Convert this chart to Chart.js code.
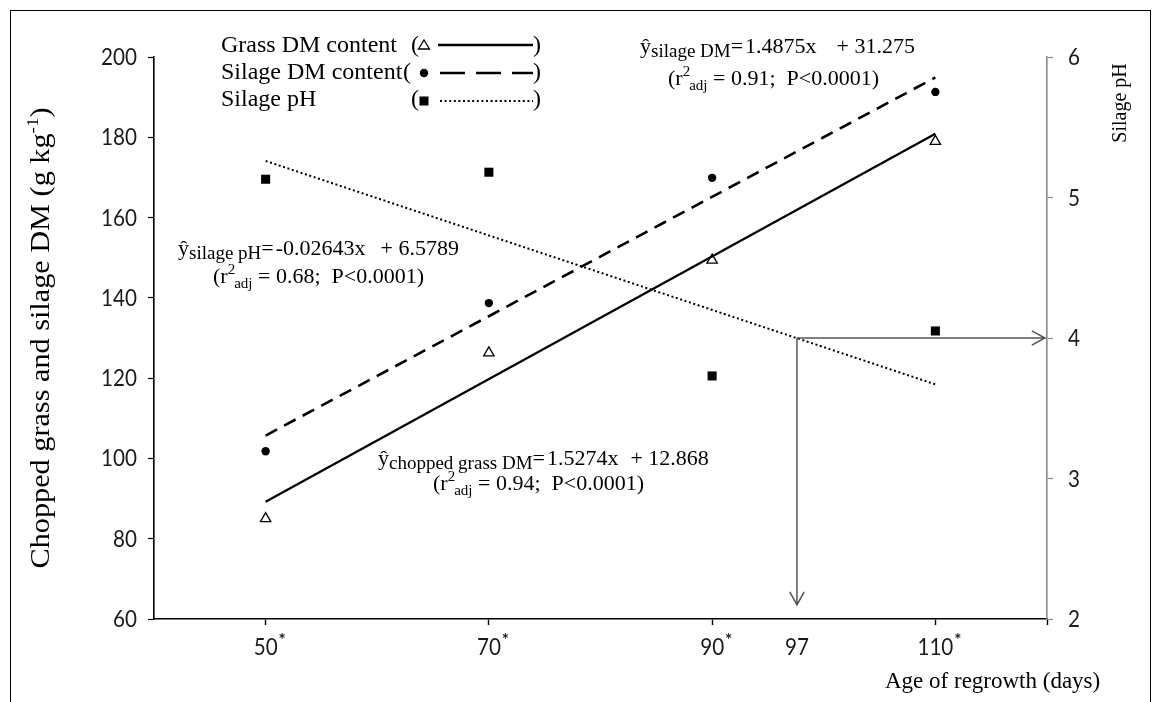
<!DOCTYPE html>
<html>
<head>
<meta charset="utf-8">
<script src="https://cdn.jsdelivr.net/npm/chart.js@4.4.1/dist/chart.umd.min.js"></script>
<style>
    html, body { margin: 0; padding: 0; background: #fff; }
    #wrap { position: relative; width: 1162px; height: 702px; overflow: hidden; }
    #frame { position: absolute; left: 10px; top: 10px; width: 1141px; height: 720px; border: 1px solid #000; box-sizing: border-box; }
    canvas { position: absolute; left: 0; top: 0; }
</style>
</head>
<body>
<div id="wrap">
    <div id="frame"></div>
    <canvas id="grafico" width="1162" height="702"></canvas>
</div>
<script>
// Datos
const dias = [50, 70, 90, 110];
const pastoMS = [85, 126.3, 149.4, 179];
const ensilajeMS = [101.8, 138.7, 169.9, 191.3];
const ensilajePH = [5.13, 5.18, 3.73, 4.05];

// Rectas de regresión (extremos)
const diasAjuste = [50, 110];
const pastoAjuste = [89.2, 180.9];
const ensilajeAjuste = [105.7, 194.9];
const phAjuste = [5.26, 3.67];

// Ejes
const xTicks = [50, 70, 90, 110, 120];
const xEtiquetas = ['50', '70', '90', '110'];
const yTicks = [60, 80, 100, 120, 140, 160, 180, 200];
const phTicks = [2, 3, 4, 5, 6];
const marcaX = 97.6;      // días para pH 4
const marcaPH = 4;
const marcaPHFin = 2.1;

const serif = "'Liberation Serif', 'Times New Roman', serif";
const sans = "Lato, 'Liberation Sans', sans-serif";

function puntos(xs, ys) {
    return xs.map((x, i) => ({ x: x, y: ys[i] }));
}

// Dibuja texto en trozos: [texto, tamaño, desplazamiento vertical, espacio extra]
function trozos(ctx, x, y, partes) {
    let cx = x;
    partes.forEach(p => {
        ctx.font = p[1] + 'px ' + serif;
        ctx.fillText(p[0], cx, y + (p[2] || 0));
        cx += ctx.measureText(p[0]).width + (p[3] || 0);
    });
    return cx;
}

function anchoTrozos(ctx, partes) {
    let w = 0;
    partes.forEach(p => {
        ctx.font = p[1] + 'px ' + serif;
        w += ctx.measureText(p[0]).width + (p[3] || 0);
    });
    return w;
}

// Números de los ejes, algo estrechos como Calibri
function numero(ctx, t, x, y, alinear) {
    ctx.save();
    ctx.font = '24px ' + sans;
    ctx.fillStyle = '#1a1a1a';
    ctx.textAlign = alinear;
    ctx.translate(x, y);
    ctx.scale(0.86, 1);
    ctx.fillText(t, 0, 0);
    const w = ctx.measureText(t).width * 0.86;
    ctx.restore();
    return w;
}

function flecha(ctx, x1, y1, x2, y2) {
    const ang = Math.atan2(y2 - y1, x2 - x1);
    const largo = 15, abre = 0.5;
    ctx.beginPath();
    ctx.moveTo(x1, y1);
    ctx.lineTo(x2, y2);
    ctx.moveTo(x2 - largo * Math.cos(ang - abre), y2 - largo * Math.sin(ang - abre));
    ctx.lineTo(x2, y2);
    ctx.lineTo(x2 - largo * Math.cos(ang + abre), y2 - largo * Math.sin(ang + abre));
    ctx.stroke();
}

const textos = {
    id: 'textos',
    afterDraw(chart) {
        const ctx = chart.ctx;
        const sx = chart.scales.x;
        const sy = chart.scales.y;
        const sy1 = chart.scales.y1;
        ctx.save();
        ctx.fillStyle = '#000';
        ctx.textBaseline = 'alphabetic';
        ctx.textAlign = 'left';

        // Etiquetas de los ejes
        yTicks.forEach(v => numero(ctx, String(v), 137, sy.getPixelForValue(v) + 8, 'right'));
        phTicks.forEach(v => numero(ctx, String(v), 1068, sy1.getPixelForValue(v) + 8, 'left'));
        xEtiquetas.forEach(t => {
            const px = sx.getPixelForValue(Number(t));
            const w = numero(ctx, t, px, 655, 'center');
            ctx.font = 'bold 17px ' + sans;
            ctx.fillStyle = '#1a1a1a';
            ctx.textAlign = 'left';
            ctx.fillText('*', px + w / 2 + 1, 646);
        });
        numero(ctx, '97', sx.getPixelForValue(marcaX), 655, 'center');

        // Flechas pH 4
        const ax = sx.getPixelForValue(marcaX);
        const ay = sy1.getPixelForValue(marcaPH);
        ctx.strokeStyle = '#555';
        ctx.lineWidth = 1.5;
        flecha(ctx, ax, ay, sx.right - 2, ay);
        flecha(ctx, ax, ay, ax, sy1.getPixelForValue(marcaPHFin));

        ctx.fillStyle = '#000';
        ctx.textAlign = 'left';

        // Título eje X
        ctx.font = '23px ' + serif;
        ctx.fillText('Age of regrowth (days)', 885, 688);

        // Título eje Y izquierdo (algo estirado a lo largo del eje)
        const tIzq = [['Chopped grass and silage DM (g kg', 27, 0], ['-1', 17, -11], [')', 27, 0]];
        ctx.save();
        ctx.translate(49, 338);
        ctx.rotate(-Math.PI / 2);
        ctx.scale(1.12, 1);
        trozos(ctx, -anchoTrozos(ctx, tIzq) / 2, 0, tIzq);
        ctx.restore();

        // Título eje Y derecho
        ctx.save();
        ctx.translate(1126, 103);
        ctx.rotate(-Math.PI / 2);
        ctx.font = '20px ' + serif;
        ctx.textAlign = 'center';
        ctx.fillText('Silage pH', 0, 0);
        ctx.restore();

        // Leyenda
        ctx.font = '24px ' + serif;
        ctx.fillText('Grass DM content', 221, 52);
        ctx.fillText('Silage DM content', 221, 79);
        ctx.fillText('Silage pH', 221, 106);
        ctx.fillText('(', 411, 52);
        ctx.fillText('(', 403, 79);
        ctx.fillText('(', 411, 106);
        ctx.fillText(')', 533, 52);
        ctx.fillText(')', 533, 79);
        ctx.fillText(')', 533, 106);
        ctx.strokeStyle = '#000';
        ctx.lineWidth = 1.3;
        ctx.beginPath();
        ctx.moveTo(424, 40); ctx.lineTo(429.5, 49); ctx.lineTo(418.5, 49); ctx.closePath();
        ctx.stroke();
        ctx.beginPath();
        ctx.arc(424, 73, 4.2, 0, Math.PI * 2);
        ctx.fill();
        ctx.fillRect(419.5, 96.5, 9, 9);
        ctx.lineWidth = 2.5;
        ctx.beginPath(); ctx.moveTo(438, 45); ctx.lineTo(533, 45); ctx.stroke();
        ctx.setLineDash([25, 11]);
        ctx.beginPath(); ctx.moveTo(440, 73); ctx.lineTo(533, 73); ctx.stroke();
        ctx.lineWidth = 2;
        ctx.setLineDash([2, 2.6]);
        ctx.beginPath(); ctx.moveTo(440, 101); ctx.lineTo(533, 101); ctx.stroke();
        ctx.setLineDash([]);

        // Ecuaciones
        const ecu = (x, y, sub, pendiente, corte, hueco) => {
            trozos(ctx, x, y, [['ŷ', 22, 0], [sub, 19, 4], ['=', 22, 0, 2], [pendiente, 22, 0, hueco], [corte, 22, 0]]);
        };
        const r2 = (x, y, val) => {
            trozos(ctx, x, y, [['(r', 22, 0], ['2', 15, -9, -1], ['adj', 15, 5], [' = ' + val + ';  P<0.0001)', 22, 0]]);
        };
        ecu(640, 53, 'silage DM', '1.4875x', '+ 31.275', 20);
        r2(668, 85, '0.91');
        ecu(178, 255, 'silage pH', '-0.02643x', '+ 6.5789', 15);
        r2(213, 283, '0.68');
        ecu(378, 465, 'chopped grass DM', '1.5274x', '+ 12.868', 12);
        r2(433, 490, '0.94');

        ctx.restore();
    }
};

const ctx = document.getElementById('grafico').getContext('2d');
new Chart(ctx, {
    type: 'scatter',
    data: {
        datasets: [
            {
                label: 'Silage pH fit',
                data: puntos(diasAjuste, phAjuste),
                yAxisID: 'y1',
                showLine: true,
                borderColor: '#000',
                borderWidth: 2,
                borderDash: [2, 2.6],
                pointRadius: 0
            },
            {
                label: 'Silage DM fit',
                data: puntos(diasAjuste, ensilajeAjuste),
                yAxisID: 'y',
                showLine: true,
                borderColor: '#000',
                borderWidth: 2.6,
                borderDash: [13, 8],
                pointRadius: 0
            },
            {
                label: 'Grass DM fit',
                data: puntos(diasAjuste, pastoAjuste),
                yAxisID: 'y',
                showLine: true,
                borderColor: '#000',
                borderWidth: 2.2,
                pointRadius: 0
            },
            {
                label: 'Grass DM content',
                data: puntos(dias, pastoMS),
                yAxisID: 'y',
                pointStyle: 'triangle',
                pointRadius: 6,
                pointBorderWidth: 1.3,
                pointBackgroundColor: '#fff',
                pointBorderColor: '#000'
            },
            {
                label: 'Silage DM content',
                data: puntos(dias, ensilajeMS),
                yAxisID: 'y',
                pointStyle: 'circle',
                pointRadius: 4.2,
                pointBackgroundColor: '#000',
                pointBorderColor: '#000',
                pointBorderWidth: 0
            },
            {
                label: 'Silage pH',
                data: puntos(dias, ensilajePH),
                yAxisID: 'y1',
                pointStyle: 'rect',
                pointRadius: 6.4,
                pointBackgroundColor: '#000',
                pointBorderColor: '#000',
                pointBorderWidth: 0
            }
        ]
    },
    options: {
        responsive: false,
        animation: false,
        layout: { padding: { top: 57, left: 0, right: 0, bottom: 0 } },
        plugins: {
            legend: { display: false },
            tooltip: { enabled: false }
        },
        scales: {
            x: {
                type: 'linear',
                min: 40,
                max: 120,
                afterBuildTicks: s => { s.ticks = xTicks.map(v => ({ value: v })); },
                afterFit: s => { s.height = 83; },
                border: { color: '#000', width: 1.6 },
                grid: { drawOnChartArea: false, tickLength: 6, color: '#000', tickWidth: 1.4 },
                ticks: { callback: () => '', maxRotation: 0 }
            },
            y: {
                position: 'left',
                min: 60,
                max: 200,
                afterBuildTicks: s => { s.ticks = yTicks.map(v => ({ value: v })); },
                afterFit: s => { s.width = 154; },
                border: { color: '#000', width: 1.6 },
                grid: { drawOnChartArea: false, tickLength: 6, color: '#000', tickWidth: 1.2 },
                ticks: { callback: () => '' }
            },
            y1: {
                position: 'right',
                min: 2,
                max: 6,
                afterBuildTicks: s => { s.ticks = phTicks.map(v => ({ value: v })); },
                afterFit: s => { s.width = 115; },
                border: { color: '#8a8a8a', width: 1.6 },
                grid: { drawOnChartArea: false, tickLength: 6, color: '#8a8a8a', tickWidth: 1.2 },
                ticks: { callback: () => '' }
            }
        }
    },
    plugins: [textos]
});
</script>
</body>
</html>
